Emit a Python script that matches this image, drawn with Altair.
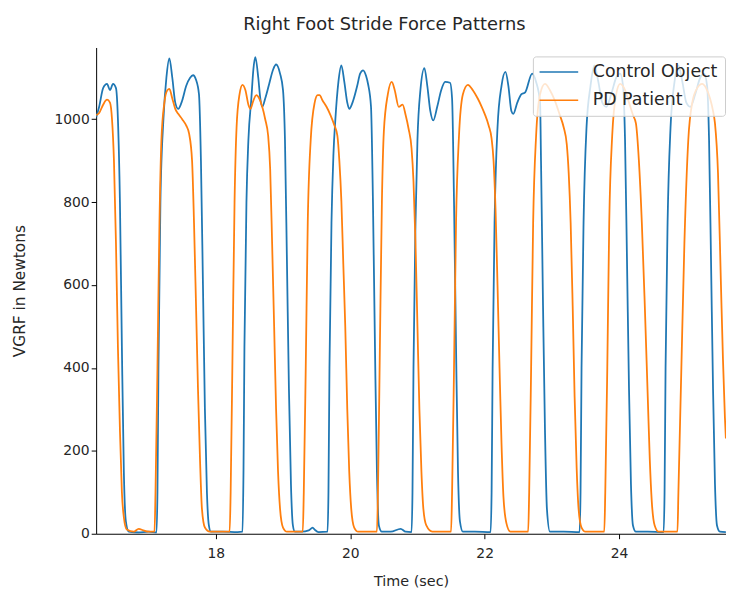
import altair as alt
import pandas as pd

# Control Object (healthy) right-foot VGRF
ctrl_t = [
    16.221, 16.265, 16.324, 16.382, 16.426, 16.471, 16.515, 16.544, 16.574, 16.603, 16.632, 16.662, 16.706, 16.853, 17.0, 17.118,
    17.132, 17.147, 17.176, 17.221, 17.265, 17.309, 17.353, 17.397, 17.441, 17.5, 17.559, 17.618, 17.662, 17.706, 17.75, 17.779,
    17.809, 17.838, 17.868, 17.897, 17.926, 18.103, 18.324, 18.397,
    18.412, 18.426, 18.456, 18.485, 18.529, 18.559, 18.588, 18.632, 18.662, 18.691, 18.735, 18.794, 18.853, 18.897, 18.956, 19.0,
    19.029, 19.059, 19.088, 19.118, 19.147, 19.176, 19.279, 19.382, 19.441, 19.471, 19.529, 19.662,
    19.676, 19.691, 19.721, 19.75, 19.779, 19.824, 19.868, 19.912, 19.956, 19.985, 20.044, 20.103, 20.147, 20.191, 20.235, 20.265,
    20.309, 20.338, 20.368, 20.397, 20.426, 20.471, 20.603, 20.75, 20.824, 20.912,
    20.926, 20.941, 20.971, 21.0, 21.044, 21.103, 21.147, 21.191, 21.235, 21.294, 21.353, 21.412, 21.485, 21.515, 21.544, 21.574,
    21.603, 21.632, 21.676, 21.853, 22.088,
    22.103, 22.118, 22.147, 22.191, 22.25, 22.309, 22.353, 22.397, 22.426, 22.485, 22.544, 22.603, 22.706, 22.765, 22.824, 22.838,
    22.868, 22.897, 22.926, 22.971, 23.176, 23.412,
    23.426, 23.441, 23.471, 23.515, 23.574, 23.632, 23.691, 23.75, 23.809, 23.882, 23.956, 24.015, 24.059, 24.088, 24.118, 24.147,
    24.176, 24.206, 24.25, 24.426, 24.662,
    24.676, 24.691, 24.721, 24.765, 24.824, 24.882, 24.941, 25.0, 25.059, 25.132, 25.206, 25.265, 25.309, 25.338, 25.368, 25.397,
    25.426, 25.456, 25.5, 25.588,
]
ctrl_v = [
    1005, 1030, 1075, 1085, 1070, 1085, 1075, 1000, 800, 450, 150, 30, 5, 3, 5, 3,
    100, 400, 800, 1000, 1100, 1147, 1100, 1040, 1025, 1045, 1080, 1100, 1106, 1095, 1060, 900,
    600, 300, 100, 20, 5, 5, 4, 5,
    150, 450, 800, 950, 1050, 1120, 1150, 1100, 1050, 1030, 1050, 1085, 1120, 1132, 1110, 1070,
    950, 650, 350, 120, 20, 5, 5, 8, 15, 10, 4, 5,
    100, 400, 750, 915, 1000, 1090, 1130, 1090, 1040, 1025, 1045, 1080, 1110, 1118, 1105, 1085,
    1030, 800, 450, 150, 20, 5, 5, 12, 5, 4,
    100, 400, 750, 950, 1070, 1123, 1080, 1020, 997, 1030, 1070, 1090, 1088, 1050, 800, 450,
    150, 30, 5, 5, 4,
    100, 400, 750, 980, 1080, 1114, 1080, 1020, 1013, 1040, 1060, 1065, 1110, 1090, 1040, 900,
    550, 250, 60, 5, 5, 4,
    100, 400, 750, 980, 1080, 1130, 1090, 1040, 1030, 1060, 1100, 1110, 1080, 950, 650, 350,
    120, 20, 5, 5, 4,
    100, 400, 750, 980, 1090, 1130, 1090, 1040, 1030, 1060, 1100, 1110, 1080, 950, 650, 350,
    120, 20, 5, 4,
]

# PD Patient right-foot VGRF
pd_t = [
    16.221, 16.265, 16.324, 16.382, 16.426, 16.456, 16.485, 16.515, 16.544, 16.574, 16.603, 16.632, 16.676, 16.779, 16.853, 16.926,
    17.0, 17.088,
    17.103, 17.132, 17.162, 17.191, 17.235, 17.279, 17.309, 17.353, 17.397, 17.441, 17.5, 17.559, 17.603, 17.647, 17.676, 17.706,
    17.735, 17.765, 17.794, 17.838, 17.912, 18.029, 18.206,
    18.221, 18.25, 18.279, 18.309, 18.353, 18.397, 18.441, 18.485, 18.515, 18.559, 18.603, 18.647, 18.691, 18.735, 18.779, 18.809,
    18.838, 18.868, 18.897, 18.926, 18.956, 19.0, 19.059, 19.206, 19.294,
    19.309, 19.338, 19.368, 19.412, 19.471, 19.515, 19.544, 19.588, 19.647, 19.706, 19.765, 19.809, 19.838, 19.868, 19.897, 19.926,
    19.956, 19.985, 20.015, 20.059, 20.118, 20.265, 20.397,
    20.412, 20.441, 20.471, 20.5, 20.559, 20.618, 20.662, 20.721, 20.779, 20.824, 20.868, 20.912, 20.941, 20.971, 21.0, 21.029,
    21.059, 21.088, 21.132, 21.221, 21.412, 21.5,
    21.515, 21.544, 21.574, 21.618, 21.676, 21.75, 21.824, 21.897, 21.956, 22.0, 22.059, 22.103, 22.132, 22.162, 22.191, 22.221,
    22.25, 22.279, 22.324, 22.382, 22.515, 22.647,
    22.662, 22.691, 22.721, 22.765, 22.824, 22.897, 22.971, 23.044, 23.118, 23.176, 23.221, 23.25, 23.279, 23.309, 23.338, 23.368,
    23.397, 23.441, 23.5, 23.618, 23.779,
    23.794, 23.824, 23.853, 23.897, 23.956, 24.015, 24.088, 24.147, 24.206, 24.25, 24.294, 24.338, 24.382, 24.426, 24.456, 24.485,
    24.529, 24.588, 24.721, 24.868,
    24.882, 24.926, 24.971, 25.029, 25.088, 25.162, 25.235, 25.294, 25.353, 25.397, 25.426, 25.471, 25.515, 25.545, 25.574, 25.588,
]
pd_v = [
    1010, 1015, 1035, 1047, 1040, 1000, 900, 700, 450, 250, 100, 40, 10, 5, 12, 8,
    5, 5,
    100, 400, 750, 950, 1040, 1070, 1073, 1050, 1025, 1013, 1000, 985, 965, 900, 750, 550,
    350, 180, 60, 15, 5, 5, 5,
    100, 450, 800, 980, 1060, 1083, 1070, 1035, 1025, 1045, 1058, 1050, 1030, 1000, 960, 880,
    700, 500, 300, 150, 60, 15, 5, 5, 5,
    100, 400, 750, 950, 1040, 1058, 1058, 1045, 1030, 1010, 985, 960, 900, 803, 650, 500,
    300, 150, 60, 15, 5, 5, 5,
    100, 450, 800, 970, 1060, 1090, 1070, 1030, 1035, 1010, 977, 930, 850, 700, 500, 300,
    150, 60, 20, 5, 5, 5,
    100, 400, 750, 960, 1060, 1083, 1070, 1050, 1030, 1013, 985, 953, 900, 780, 600, 400,
    220, 90, 25, 5, 5, 5,
    100, 400, 750, 960, 1060, 1085, 1070, 1045, 1010, 980, 940, 870, 750, 550, 330, 160,
    60, 15, 5, 5, 5,
    100, 400, 750, 960, 1060, 1085, 1070, 1040, 1010, 990, 900, 750, 550, 330, 180, 80,
    20, 5, 5, 5,
    100, 400, 700, 950, 1040, 1075, 1085, 1075, 1050, 1020, 990, 870, 600, 420, 280, 230,
]

series_names = ["Control Object", "PD Patient"]
series_colors = ["#1f77b4", "#ff7f0e"]
x_ticks = [18, 20, 22, 24]
y_ticks = [0, 200, 400, 600, 800, 1000]

df = pd.concat([
    pd.DataFrame({"t": ctrl_t, "v": ctrl_v, "series": series_names[0], "order": range(len(ctrl_t))}),
    pd.DataFrame({"t": pd_t, "v": pd_v, "series": series_names[1], "order": range(len(pd_t))}),
])

FONT = "DejaVu Sans"

chart = alt.Chart(df).mark_line(strokeWidth=1.8, clip=True, interpolate="monotone").encode(
    x=alt.X("t:Q", title="Time (sec)",
            scale=alt.Scale(domain=[16.22, 25.59], nice=False, zero=False),
            axis=alt.Axis(values=x_ticks, format="d", labelPadding=8, titlePadding=14,
                          titleFontSize=14.5)),
    y=alt.Y("v:Q", title="VGRF in Newtons",
            scale=alt.Scale(domain=[0, 1173], nice=False),
            axis=alt.Axis(values=y_ticks, format="d", labelPadding=2, titlePadding=27,
                          titleFontSize=15.5)),
    color=alt.Color("series:N",
                    scale=alt.Scale(domain=series_names, range=series_colors),
                    legend=alt.Legend(title=None, orient="none", legendX=441, legendY=9,
                                      fillColor="rgba(255,255,255,0.8)", strokeColor="#cccccc",
                                      cornerRadius=3, padding=7,
                                      symbolType="M-1.286,0H4.286", symbolSize=196,
                                      symbolStrokeWidth=1.6, labelFontSize=17.5, labelFont=FONT,
                                      labelColor="#262626", labelOffset=36, rowPadding=9.5,
                                      labelLimit=300)),
    order="order:Q",
).properties(
    width=636, height=491,
    title=alt.TitleParams("Right Foot Stride Force Patterns", fontSize=18, font=FONT,
                          fontWeight="normal", color="#262626", offset=14, dx=-27),
    padding={"left": 89, "top": 37, "right": 0, "bottom": 62},
    autosize=alt.AutoSizeParams(type="none"),
).configure_view(stroke=None).configure_axis(
    grid=False, domainColor="black", domainWidth=1, tickColor="black", tickSize=5, tickWidth=1,
    labelFont=FONT, labelFontSize=14, labelColor="#262626",
    titleFont=FONT, titleFontWeight="normal", titleColor="#262626",
)

chart.save("out.html", embed_options={"renderer": "svg", "actions": False})
